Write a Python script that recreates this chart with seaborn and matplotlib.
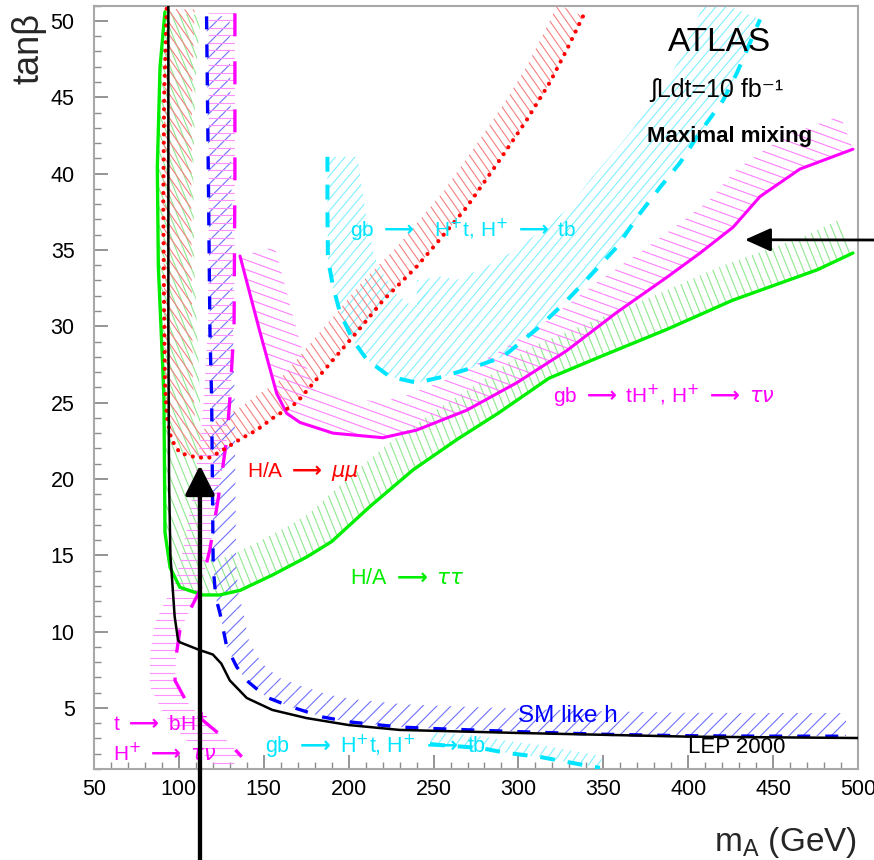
import numpy as np
import matplotlib
matplotlib.use("Agg")
import matplotlib.pyplot as plt
import seaborn as sns
from matplotlib.collections import LineCollection
from matplotlib.patches import Polygon
from matplotlib.transforms import IdentityTransform
from matplotlib.ticker import MultipleLocator

# ---------------- data (m_A in GeV, tan beta) ----------------
lep_x = [93.8, 93.8, 94.2, 95.0, 96.0, 97.5, 99.5, 100.6, 112, 120, 125, 130, 140, 155, 175, 200, 230, 300, 400, 500]
lep_y = [51.0, 30.0, 20.0, 15.0, 13.4, 11.0, 9.45, 9.3, 8.8, 8.5, 7.9, 6.8, 5.65, 4.87, 4.34, 3.88, 3.56, 3.36, 3.12, 3.03]

tautau_x = [91.8, 88.9, 87.3, 87.9, 90.5, 91.2, 91.8, 94.8, 100.6, 114, 124, 136, 155, 175.5, 190, 212.6, 238, 264, 288, 318, 348, 387.5, 426, 476, 497]
tautau_y = [50.6, 47.0, 40.4, 33.9, 27.3, 25.2, 16.5, 14.2, 12.9, 12.4, 12.4, 12.7, 13.7, 14.9, 15.9, 18.2, 20.6, 22.6, 24.3, 26.6, 28.0, 29.8, 31.7, 33.7, 34.8]

mumu_x = [92.8, 91.3, 90.8, 91.2, 91.8, 93.0, 95.5, 100.6, 110.5, 118.3, 126, 136, 145.8, 155.5, 169.4, 190.8, 204.7, 220.3, 240, 250, 269.5, 289, 304.8, 318.6, 328.4, 338]
mumu_y = [50.8, 45.0, 38.0, 32.0, 26.3, 24.0, 22.6, 21.7, 21.4, 21.4, 21.9, 22.6, 23.2, 24.0, 25.0, 27.8, 29.6, 31.7, 33.9, 35.2, 37.8, 40.9, 43.5, 46.0, 48.1, 50.3]

smh_x = [116.3, 117.3, 118.3, 119.3, 120.2, 121.8, 124.2, 128.2, 134, 139.9, 151.7, 165.4, 184.9, 200.8, 230.2, 249.7, 299, 348, 397, 446, 493]
smh_y = [50.3, 40.4, 29.6, 25.2, 14.2, 12.2, 11.2, 9.0, 7.7, 6.8, 5.7, 5.1, 4.4, 4.08, 3.75, 3.65, 3.45, 3.28, 3.18, 3.15, 3.15]

tbh_x = [133, 133, 132.5, 130, 128.2, 123, 118.3, 112.4, 106, 100.6, 98.5, 97.7, 104, 110.5, 114, 128, 137]
tbh_y = [50.5, 40.0, 30.0, 25.2, 22.6, 18.6, 15.4, 12.7, 11.3, 10.1, 8.5, 6.8, 5.5, 4.7, 4.2, 2.9, 1.8]

taunu_x = [136, 147.8, 157.6, 163.5, 171.3, 190.8, 220.2, 240, 269.5, 299, 328.4, 357.8, 387.3, 407, 426.5, 442.3, 465.8, 497]
taunu_y = [34.6, 29.6, 25.6, 24.3, 23.7, 23.0, 22.7, 23.2, 24.5, 26.3, 28.4, 30.9, 33.2, 34.8, 36.5, 38.5, 40.3, 41.6]

tb_x = [187.5, 187.5, 187.8, 190.8, 194.9, 202.5, 210.8, 224.3, 240.2, 255.6, 273.2, 290.9, 312.7, 328.6, 343.9, 358.0, 371.6, 383.4, 395.1, 406.9, 420.5, 428.7, 442.3]
tb_y = [41.1, 37.5, 34.4, 32.6, 30.9, 29.1, 27.8, 26.7, 26.3, 26.7, 27.3, 28.0, 30.0, 31.7, 33.5, 35.2, 37.4, 39.1, 40.7, 42.7, 44.8, 46.6, 50.1]

tblow_x = [247.9, 253.8, 277.3, 293.2, 312.7, 328.6, 348.0]
tblow_y = [2.64, 2.57, 2.38, 2.05, 1.79, 1.46, 1.07]

x_ticks = [50, 100, 150, 200, 250, 300, 350, 400, 450, 500]
y_ticks = [5, 10, 15, 20, 25, 30, 35, 40, 45, 50]

# band widths along the cyan contour (pixels, style only)
tb_band_w = [30, 38, 46, 52, 58, 68, 80, 92, 100, 100, 96, 90, 80, 72, 66, 62, 60, 58, 58, 58, 58, 58, 58]

# ---------------- style ----------------
sns.set_theme(style="ticks")
plt.rcParams['font.family'] = ['Liberation Sans', 'DejaVu Sans']
plt.rcParams['mathtext.fontset'] = 'dejavusans'

W, H = 874, 860
fig = plt.figure(figsize=(W / 100, H / 100), dpi=100)
fig.patch.set_facecolor('white')
ax = fig.add_axes([94 / W, 1 - 769 / H, 764 / W, 763.3 / H])
ax.set_xlim(50, 500)
ax.set_ylim(1, 51)


def band_quads(x, y, width, side):
    pts = ax.transData.transform(np.column_stack([x, y]))
    t = np.gradient(pts, axis=0)
    t /= np.linalg.norm(t, axis=1)[:, None]
    n = np.column_stack([-t[:, 1], t[:, 0]]) * side
    w = np.broadcast_to(np.asarray(width, dtype=float), (len(pts),)).reshape(-1, 1)
    off = pts + n * w
    return [np.array([pts[i], pts[i + 1], off[i + 1], off[i]]) for i in range(len(pts) - 1)]


def hatch(x, y, width, side, angle, spacing, color, lw=0.8):
    quads = band_quads(x, y, width, side)
    th = np.deg2rad(angle)
    d = np.array([np.cos(th), np.sin(th)])
    nv = np.array([-np.sin(th), np.cos(th)])
    for q in quads:
        patch = Polygon(q, closed=True, transform=IdentityTransform(),
                        facecolor='none', edgecolor='none')
        proj = q @ nv
        along = q @ d
        c0 = np.floor(proj.min() / spacing) * spacing
        cs = np.arange(c0, proj.max() + spacing, spacing)
        segs = [[c * nv + (along.min() - 2) * d, c * nv + (along.max() + 2) * d] for c in cs]
        lc = LineCollection(segs, colors=color, linewidths=lw,
                            transform=IdentityTransform(), zorder=1)
        ax.add_collection(lc, autolim=False)
        lc.set_clip_path(patch)


# hatched bands
hatch(tb_x, tb_y, tb_band_w, 1, 50, 7.5, '#7ff0ff')
hatch(tblow_x, tblow_y, 12, 1, 55, 7.5, '#7ff0ff')
hatch(tautau_x, tautau_y, 36, 1, 112, 7.0, '#8fe88f')
hatch(mumu_x, mumu_y, 28, 1, 125, 6.8, '#f58080')
hatch(smh_x, smh_y, 23, 1, 45, 10.0, '#7070ff')
hatch(tbh_x, tbh_y, 26, -1, 0, 7.5, '#ff90ff')
hatch(taunu_x, taunu_y, 36, 1, 160, 9.0, '#ff80ff')


def curve(x, y, color, lw, ls='-', z=3, cap='butt'):
    sns.lineplot(x=x, y=y, sort=False, estimator=None, errorbar=None,
                 color=color, linewidth=lw, linestyle=ls, ax=ax, zorder=z,
                 legend=False, dash_capstyle=cap, solid_capstyle='round')


curve(tb_x, tb_y, '#00e5ff', 2.9, (0, (3.7, 3.2)))
curve(tblow_x, tblow_y, '#00e5ff', 2.9, (0, (3.7, 3.2)))
curve(tautau_x, tautau_y, '#00ee00', 2.4)
curve(taunu_x, taunu_y, '#ff00ff', 2.2)
curve(tbh_x, tbh_y, '#ff00ff', 2.4, (0, (6.9, 7.5)))
curve(smh_x, smh_y, '#0000ff', 2.4, (0, (3.9, 4.5)))
curve(mumu_x, mumu_y, '#ff0000', 3.0, (0, (0.01, 2.0)), cap='round')
curve(lep_x, lep_y, 'black', 1.8, z=4)

# ---------------- axes ----------------
ax.set_xlim(50, 500)
ax.set_ylim(1, 51)
ax.set_xticks(x_ticks)
ax.set_yticks(y_ticks)
ax.xaxis.set_minor_locator(MultipleLocator(10))
ax.yaxis.set_minor_locator(MultipleLocator(1))
ax.set_xlabel('')
ax.set_ylabel('')
ax.tick_params(which='both', direction='in', top=False, right=False,
               colors='#8c8c8c', labelcolor='black', labelsize=15.5)
ax.tick_params(which='major', length=10, width=1.3)
ax.tick_params(which='minor', length=5, width=1.0)
ax.tick_params(axis='x', which='major', pad=7)
ax.tick_params(axis='y', which='major', pad=14)
for s in ax.spines.values():
    s.set_color('#a8a8a8')
    s.set_linewidth(1.5)

fig.text(29 / W, 1 - 48 / H, 'tanβ', rotation=90, ha='center', va='center', fontsize=26)
fig.text(857 / W, 1 - 842 / H, 'm$_{\\mathregular{A}}$ (GeV)', ha='right', va='center', fontsize=24)

# ---------------- labels ----------------
ARR = '$\\mathbf{\\longrightarrow}$'
ax.text(418.7, 48.6, 'ATLAS', ha='center', va='center', fontsize=24, color='black')
ax.text(416.9, 45.5, '∫Ldt=10 fb⁻¹', ha='center', va='center', fontsize=18, color='black')
ax.text(424.6, 42.4, 'Maximal mixing', ha='center', va='center', fontsize=16, fontweight='bold', color='black')
ax.text(200.8, 36.3, f'gb {ARR}   H$^{{+}}$t, H$^{{+}}$ {ARR} tb', ha='left', va='center', fontsize=15, color='#00e5ff', zorder=5)
ax.text(320.3, 25.4, f'gb {ARR} tH$^{{+}}$, H$^{{+}}$ {ARR} $\\tau\\nu$', ha='left', va='center', fontsize=15, color='#ff00ff', zorder=5)
ax.text(140.1, 20.46, f'H/A {ARR} $\\mu\\mu$', ha='left', va='center', fontsize=15, color='#ff0000', zorder=5)
ax.text(200.8, 13.45, f'H/A {ARR} $\\tau\\tau$', ha='left', va='center', fontsize=15.5, color='#00ee00', zorder=5)
ax.text(299.7, 4.47, 'SM like h', ha='left', va='center', fontsize=17.5, color='#0000ff', zorder=5)
ax.text(399.9, 2.38, 'LEP 2000', ha='left', va='center', fontsize=16, color='black', zorder=5)
ax.text(61.2, 4.01, f't {ARR} bH$^{{+}}$', ha='left', va='center', fontsize=15, color='#ff00ff', zorder=5)
ax.text(61.2, 2.05, f'H$^{{+}}$ {ARR} $\\tau\\nu$', ha='left', va='center', fontsize=15, color='#ff00ff', zorder=5)
ax.text(150.7, 2.44, f'gb {ARR} H$^{{+}}$t, H$^{{+}}$ {ARR} tb', ha='left', va='center', fontsize=15.5, color='#00e5ff', zorder=5)

# ---------------- arrows ----------------
ax.annotate('', xy=(112.4, 20.9), xycoords='data', xytext=(200 / W, 0.0),
            textcoords='figure fraction', annotation_clip=False,
            arrowprops=dict(arrowstyle='-|>,head_length=0.9,head_width=0.45',
                            mutation_scale=20, lw=3.1, color='black',
                            shrinkA=0, shrinkB=0), zorder=10)
ax.annotate('', xy=(433.4, 35.67), xycoords='data', xytext=(1.0, 1 - 240 / H),
            textcoords='figure fraction', annotation_clip=False,
            arrowprops=dict(arrowstyle='-|>,head_length=0.8,head_width=0.36',
                            mutation_scale=20, lw=2.0, color='black',
                            shrinkA=0, shrinkB=0), zorder=10)

fig.savefig('out.png', dpi=100, facecolor='white')
